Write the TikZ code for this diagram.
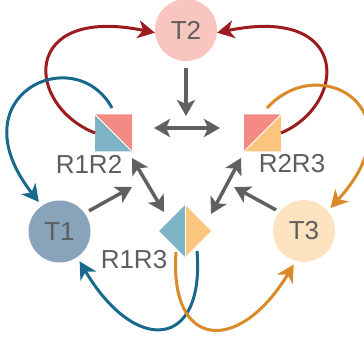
\documentclass[tikz,border=0pt]{standalone}
\usepackage{fontspec}
\setmainfont{Liberation Sans}
\usetikzlibrary{arrows.meta,shapes.geometric,calc}
\definecolor{txtgray}{HTML}{5E5E5E}
\definecolor{arrgray}{HTML}{606060}
\definecolor{tonefill}{HTML}{89A3BB}
\definecolor{ttwofill}{HTML}{F9C6BF}
\definecolor{tthreefill}{HTML}{FDE3BF}
\definecolor{sqpink}{HTML}{F38B84}
\definecolor{sqblue}{HTML}{7FB4C7}
\definecolor{sqorange}{HTML}{FDC67E}
\definecolor{cred}{HTML}{9B1C1F}
\definecolor{cblue}{HTML}{19698D}
\definecolor{corange}{HTML}{DA8A27}
\begin{document}
\begin{tikzpicture}[x=1pt,y=-1pt,
  circ/.style={circle, minimum size=62pt, inner sep=0pt, text=txtgray, font=\fontsize{26}{30}\selectfont},
  sqnode/.style={rectangle, minimum size=37pt, inner sep=0pt, outer sep=0pt},
  lbl/.style={text=txtgray, font=\fontsize{26}{30}\selectfont, inner sep=0pt},
  grayarr/.style={draw=arrgray, line width=3.5pt, -{Stealth[length=16pt,width=18pt,inset=4pt]}},
  grayboth/.style={draw=arrgray, line width=3.5pt, {Stealth[length=16pt,width=18pt,inset=4pt]}-{Stealth[length=16pt,width=18pt,inset=4pt]}},
  colarr/.style={line width=3pt, -{Stealth[length=17pt,width=18pt,inset=5pt]}}
]
\useasboundingbox (0,0) rectangle (364,347);
% nodes
\node[circ, fill=ttwofill] (T2) at (186,30) {T2};
\node[circ, fill=tonefill, outer sep=5pt] (T1) at (59.5,231.5) {T1};
\node[circ, fill=tthreefill, outer sep=4pt] (T3) at (304,231) {T3};
\node[sqnode] (R1R2) at (113.5,133) {};
\node[sqnode] (R2R3) at (262.5,133) {};
\node[diamond, aspect=1, minimum width=52pt, minimum height=52pt, inner sep=0pt, outer sep=0pt] (R1R3) at (185,231) {};
% square fills
\fill[sqblue] (R1R2.north west) -- (R1R2.south west) -- (R1R2.south east) -- cycle;
\fill[sqpink] (R1R2.north west) -- (R1R2.north east) -- (R1R2.south east) -- cycle;
\draw[white, line width=0.8pt] (R1R2.north west) -- (R1R2.south east);
\fill[sqpink] (R2R3.north west) -- (R2R3.north east) -- (R2R3.south west) -- cycle;
\fill[sqorange] (R2R3.north east) -- (R2R3.south east) -- (R2R3.south west) -- cycle;
\draw[white, line width=0.8pt] (R2R3.south west) -- (R2R3.north east);
\fill[sqblue] (R1R3.north) -- (R1R3.west) -- (R1R3.south) -- cycle;
\fill[sqorange] (R1R3.north) -- (R1R3.east) -- (R1R3.south) -- cycle;
\draw[white, line width=0.8pt] (R1R3.north) -- (R1R3.south);
% labels
\node[lbl] (L12) at (89,164) {R1R2};
\node[lbl] (L23) at (292,164) {R2R3};
\node[lbl] (L13) at (134,260) {R1R3};
% free ends
\coordinate (t2tip) at (186,116);
\coordinate (t1tip) at (132,187);
\coordinate (t3tip) at (234,187);
% gray arrows
\draw[grayarr, shorten <=7pt] (T2.south) -- (t2tip);
\draw[grayboth] ($(R1R2.east)+(22,-5)$) -- ($(R2R3.west)+(-24,-5)$);
\draw[grayboth] ($(R1R2.south east)+(0,6.5)$) -- ($(R1R3.north west)+(-8,-6)$);
\draw[grayboth] ($(R2R3.south west)+(-3,6.5)$) -- ($(R1R3.north east)+(13,-4)$);
\draw[grayarr] (T1.35) -- (t1tip);
\draw[grayarr] (T3.143) -- (t3tip);
% colored curves
\draw[colarr, draw=cred] (R1R2.west) .. controls (25,105) and (20,5) .. (T2.185);
\draw[colarr, draw=cred] (R2R3.east) .. controls (347,105) and (352,5) .. (T2.-5);
\draw[colarr, draw=cblue] ($(R1R2.north)+(-1.5,-6.5)$) .. controls (75,40) and (-45,95) .. (T1.125);
\draw[colarr, draw=cblue] ($(R1R3.south)+(12,-6)$) .. controls (205,350) and (135,355) .. (T1.-56);
\draw[colarr, draw=corange] ($(R2R3.north)+(4.5,-6.5)$) .. controls (320,50) and (420,110) .. (T3.41);
\draw[colarr, draw=corange] ($(R1R3.south)+(-9,-5)$) .. controls (169,350) and (239,355) .. (T3.-107);
\end{tikzpicture}
\end{document}
